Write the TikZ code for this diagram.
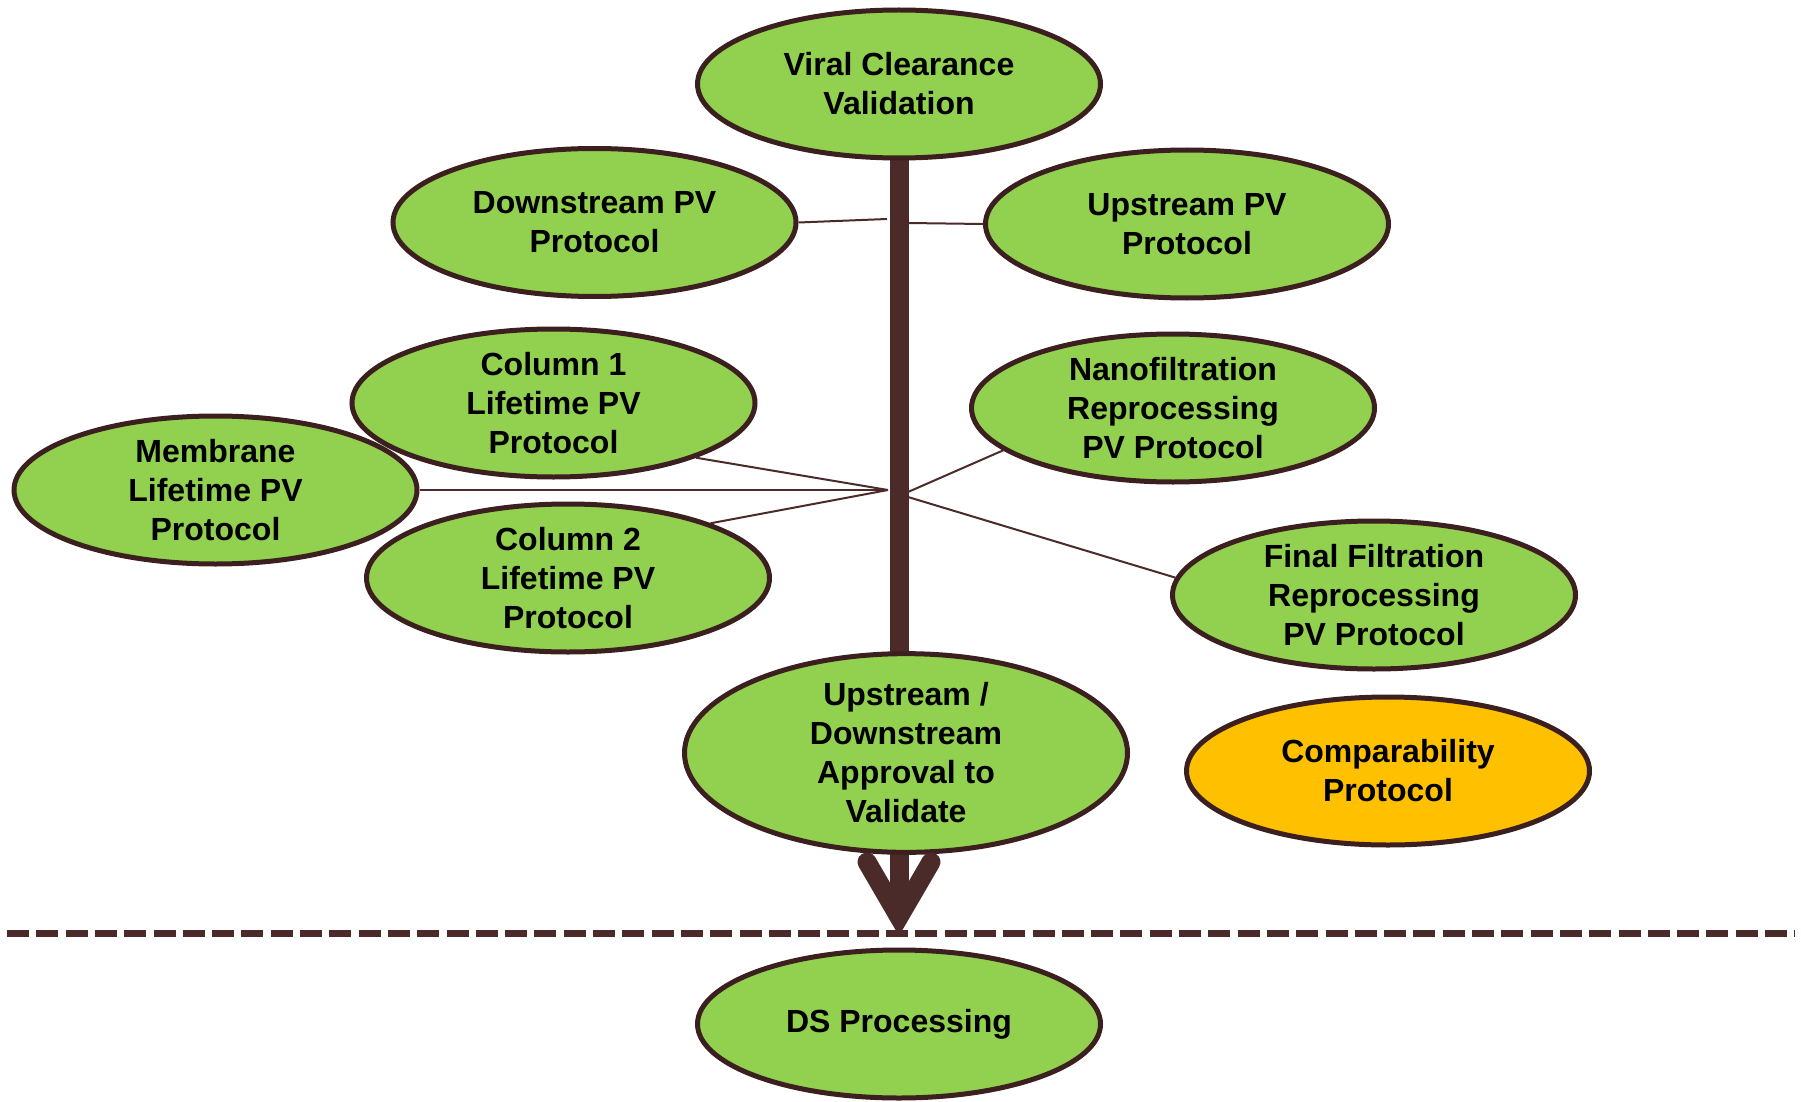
\documentclass[tikz,border=0pt]{standalone}
\usepackage{fontspec}
\setmainfont{Liberation Sans}
\usetikzlibrary{shapes.geometric}
\pgfdeclarelayer{background}
\pgfsetlayers{background,main}
\definecolor{leaf}{HTML}{92D050}
\definecolor{amber}{HTML}{FFC000}
\definecolor{bark}{HTML}{4B2B2A}
\definecolor{rim}{HTML}{3C1F1F}
\begin{document}
\begin{tikzpicture}[x=1pt,y=-1pt,
  bubble/.style={ellipse, draw=rim, line width=5pt, fill=leaf,
    minimum width=403pt, minimum height=148pt, inner sep=0pt,
    align=center, font=\fontsize{32}{39}\selectfont\bfseries},
  twig/.style={draw=bark, line width=2pt},
  trunk/.style={draw=bark, line width=19pt},
  ground/.style={draw=bark, line width=7pt, dash pattern=on 22pt off 7.3pt}]
\useasboundingbox (0,0) rectangle (1801,1102);

% protocol bubbles
\node[bubble] (viral) at (899,84) {Viral Clearance\\Validation};
\node[bubble] (down) at (594.5,222.5) {Downstream PV\\Protocol};
\node[bubble] (up) at (1187,224) {Upstream PV\\Protocol};
\node[bubble] (col1) at (553.5,403) {Column 1\\Lifetime PV\\Protocol};
\node[bubble] (mem) at (215.5,490) {Membrane\\Lifetime PV\\Protocol};
\node[bubble] (col2) at (568,578) {Column 2\\Lifetime PV\\Protocol};
\node[bubble] (nano) at (1173,408) {Nanofiltration\\Reprocessing\\PV Protocol};
\node[bubble] (final) at (1374,595) {Final Filtration\\Reprocessing\\PV Protocol};
\node[bubble, minimum width=443pt, minimum height=182pt] (appr) at (906,753)
  {Upstream /\\Downstream\\Approval to\\Validate};
\node[bubble, fill=amber] (comp) at (1388,771) {Comparability\\Protocol};
\node[bubble] (ds) at (899,1024) {DS Processing};

% junction points on the trunk
\coordinate (hubDL) at (887,219);
\coordinate (hubDR) at (908,223);
\coordinate (hubL) at (888,490);
\coordinate (hubR1) at (908,492);
\coordinate (hubR2) at (908,497);
\coordinate (barbL) at (867,862);
\coordinate (barbR) at (931,862);
\coordinate (tip) at (899,917);
\coordinate (lineW) at (7,933);
\coordinate (lineE) at (1795,933);

% main trunk with its arrowhead, behind the bubbles
\begin{pgfonlayer}{background}
  \draw[trunk] (viral.south) -- (tip);
\end{pgfonlayer}
\draw[trunk, line cap=round, line join=miter] (barbL) -- (tip) -- (barbR);

% branches
\draw[twig] (down.east) -- (hubDL);
\draw[twig] (up.west) -- (hubDR);
\draw[twig] (col1.-21) -- (hubL);
\draw[twig] (mem.east) -- (hubL);
\draw[twig] (col2.21) -- (hubL);
\draw[twig] (nano.-166) -- (hubR1);
\draw[twig] (final.175) -- (hubR2);

% dashed boundary
\draw[ground] (lineW) -- (lineE);
\end{tikzpicture}
\end{document}
